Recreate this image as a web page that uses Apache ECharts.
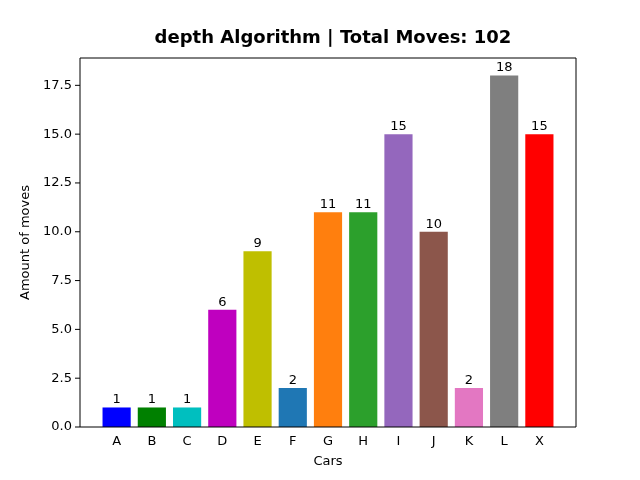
<!DOCTYPE html>
<html>
<head>
<meta charset="utf-8">
<script src="https://cdn.jsdelivr.net/npm/echarts@6/dist/echarts.min.js"></script>
<style>html,body{margin:0;padding:0;background:#fff}#main{width:640px;height:480px}</style>
</head>
<body>
<div id="main"></div>
<script>
// cars and their move counts
var cars = ['A', 'B', 'C', 'D', 'E', 'F', 'G', 'H', 'I', 'J', 'K', 'L', 'X'];
var moves = [1, 1, 1, 6, 9, 2, 11, 11, 15, 10, 2, 18, 15];
var colors = ['#0000ff', '#008000', '#00bfbf', '#bf00bf', '#bfbf00', '#1f77b4', '#ff7f0e',
    '#2ca02c', '#9467bd', '#8c564b', '#e377c2', '#7f7f7f', '#ff0000'];

var chart = echarts.init(document.getElementById('main'));
var font = 'DejaVu Sans';
chart.setOption({
    animation: false,
    textStyle: { fontFamily: font },
    title: {
        text: 'depth Algorithm | Total Moves: 102',
        left: 328, top: 33, textAlign: 'center', textVerticalAlign: 'middle',
        textStyle: { fontFamily: font, fontSize: 18, fontWeight: 'bold', color: '#000' }
    },
    // the category band sits inside the frame, like matplotlib's margins
    grid: { left: 99, right: 83, top: 58, bottom: 53 },
    xAxis: {
        type: 'category',
        data: cars,
        name: 'Cars', nameLocation: 'middle', nameGap: 28,
        nameTextStyle: { fontFamily: font, fontSize: 13, color: '#000' },
        axisLine: { show: false },
        axisTick: { alignWithLabel: true, lineStyle: { color: '#000' } },
        axisLabel: { fontFamily: font, fontSize: 13, color: '#000' }
    },
    yAxis: {
        type: 'value', min: 0, max: 18.9, interval: 2.5,
        name: 'Amount of moves', nameLocation: 'middle', nameGap: 67,
        nameTextStyle: { fontFamily: font, fontSize: 13, color: '#000' },
        splitLine: { show: false },
        axisLine: { show: false },
        axisTick: { show: false },
        axisLabel: { show: false }
    },
    series: [{
        type: 'bar',
        barCategoryGap: '20%',
        data: moves.map(function (v, i) { return { value: v, itemStyle: { color: colors[i] } }; }),
        label: { show: true, position: 'top', distance: 1, fontFamily: font, fontSize: 13, color: '#000' }
    }]
});

// frame box and y ticks at matplotlib positions (y scale from the chart)
var zr = chart.getZr();
zr.add(new echarts.graphic.Rect({
    shape: { x: 80, y: 58, width: 496, height: 369 },
    style: { stroke: '#000', fill: null, lineWidth: 1 }, z: 10
}));
var yTicks = [0, 2.5, 5, 7.5, 10, 12.5, 15, 17.5];
yTicks.forEach(function (t) {
    var py = chart.convertToPixel({ yAxisIndex: 0 }, t);
    zr.add(new echarts.graphic.Line({
        shape: { x1: 75, y1: py, x2: 80, y2: py }, style: { stroke: '#000', lineWidth: 1 }, z: 10
    }));
    zr.add(new echarts.graphic.Text({
        style: { text: t.toFixed(1), x: 72, y: py, align: 'right', verticalAlign: 'middle',
            font: '13px "DejaVu Sans"', fill: '#000' }, z: 10
    }));
});
</script>
</body>
</html>
